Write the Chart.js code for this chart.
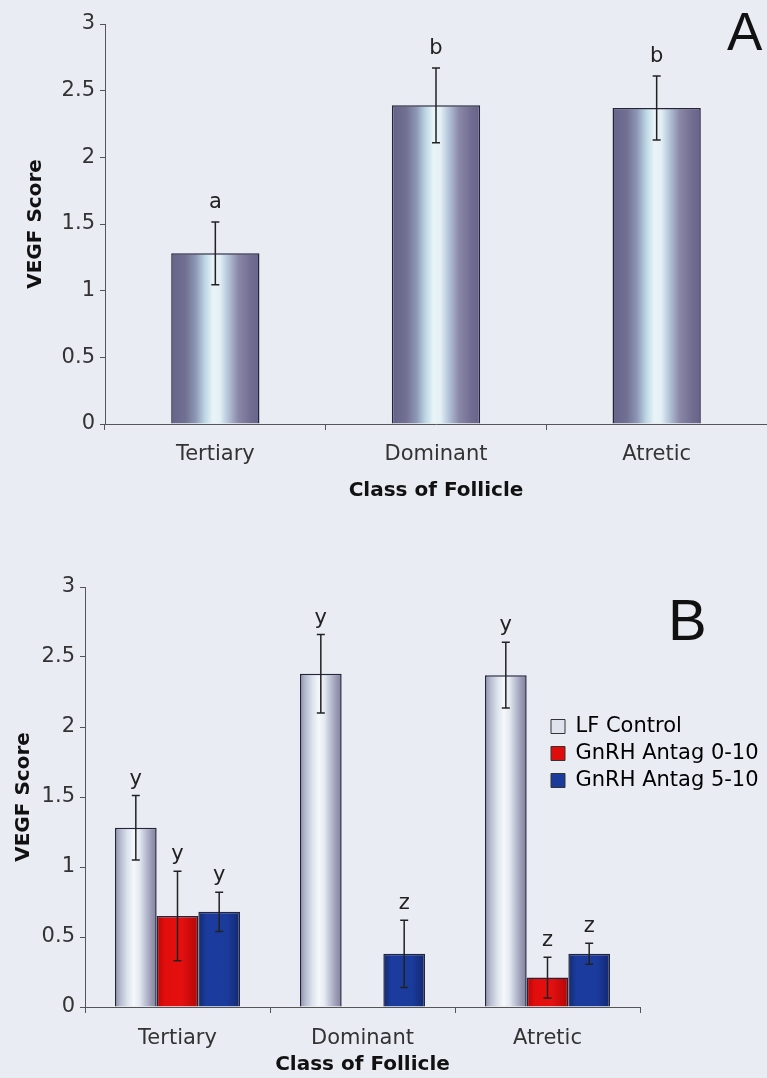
<!DOCTYPE html>
<html>
<head>
<meta charset="utf-8">
<script src="https://cdn.jsdelivr.net/npm/chart.js@4.4.1/dist/chart.umd.min.js"></script>
<style>
  body { margin: 0; background: #e9ecf3; width: 767px; height: 1078px; position: relative; overflow: hidden; }
  canvas { position: absolute; left: 0; }
  #chartA { top: 0; }
  #chartB { top: 560px; }
</style>
</head>
<body>
<canvas id="chartA" width="767" height="510"></canvas>
<canvas id="chartB" width="767" height="518"></canvas>
<script>
// --- Datos ---
const categories = ['Tertiary', 'Dominant', 'Atretic'];
const yTicks = [0, 0.5, 1, 1.5, 2, 2.5, 3];

// Panel A
const scoreA = [1.28, 2.39, 2.37];
const errA = [0.235, 0.28, 0.24];
const lettersA = ['a', 'b', 'b'];

// Panel B
const seriesB = ['LF Control', 'GnRH Antag 0-10', 'GnRH Antag 5-10'];
const lfControl = [1.28, 2.38, 2.37];
const lfControlErr = [0.23, 0.28, 0.235];
const lfControlLetters = ['y', 'y', 'y'];
const antag010 = [0.65, null, 0.21];
const antag010Err = [0.32, null, 0.145];
const antag010Letters = ['y', null, 'z'];
const antag510 = [0.68, 0.38, 0.38];
const antag510Err = [0.14, 0.24, 0.075];
const antag510Letters = ['y', 'z', 'z'];

// --- Estilos ---
const darkCylinder = [[0,'#65638a'],[0.16,'#716f92'],[0.28,'#8e98b6'],[0.38,'#bcd6e4'],[0.47,'#e8f4f7'],[0.55,'#e4f0f5'],[0.64,'#b6c6da'],[0.76,'#8a88a8'],[0.9,'#716d91'],[1,'#65618a']];
const lightCylinder = [[0,'#8c8ca8'],[0.12,'#b3b9cc'],[0.3,'#dce3ed'],[0.45,'#f5f8fb'],[0.58,'#e6ebf2'],[0.72,'#bfc4d6'],[0.87,'#9a9ab4'],[1,'#82809c']];
const redBar = [[0,'#b80606'],[0.2,'#e20e0e'],[0.6,'#e41010'],[1,'#b40606']];
const blueBar = [[0,'#132a74'],[0.2,'#1b3c9e'],[0.7,'#1a3a9c'],[1,'#12286e']];
const legendFills = ['#dfe3ee', '#e00c0c', '#1a3a9c'];
const CAT_PCT_A = 0.4;
const CAT_PCT_B = 0.676;

Chart.defaults.font.family = '"DejaVu Sans", Verdana, sans-serif';

// gradiente tipo cilindro calculado desde la escala x
function cylinder(stops, catPct) {
  return ctx => {
    if (ctx.type !== 'data') return stops[Math.floor(stops.length / 2)][1];
    const chart = ctx.chart, x = chart.scales.x;
    const n = chart.data.datasets.length;
    const catW = x && x.width / chart.data.labels.length;
    if (!catW || !isFinite(catW)) return stops[0][1];
    const groupW = catW * catPct, barW = groupW / n;
    const left = x.getPixelForValue(ctx.dataIndex) - groupW / 2 + ctx.datasetIndex * barW;
    if (!isFinite(left)) return stops[0][1];
    const g = chart.ctx.createLinearGradient(left, 0, left + barW, 0);
    stops.forEach(([o, c]) => g.addColorStop(o, c));
    return g;
  };
}

// --- Plugins ---
const errorBars = {
  id: 'errorBars',
  afterDatasetsDraw(chart, args, opts) {
    const ctx = chart.ctx, y = chart.scales.y;
    ctx.save();
    ctx.strokeStyle = opts.color;
    ctx.lineWidth = opts.width;
    ctx.fillStyle = opts.textColor;
    ctx.font = opts.font;
    ctx.textAlign = 'center';
    ctx.textBaseline = 'alphabetic';
    chart.data.datasets.forEach((ds, d) => {
      chart.getDatasetMeta(d).data.forEach((bar, i) => {
        const v = ds.data[i], e = ds.errors[i];
        if (v == null || e == null) return;
        const top = y.getPixelForValue(v + e), bot = y.getPixelForValue(v - e);
        ctx.beginPath();
        ctx.moveTo(bar.x, top); ctx.lineTo(bar.x, bot);
        ctx.moveTo(bar.x - opts.cap, top); ctx.lineTo(bar.x + opts.cap, top);
        ctx.moveTo(bar.x - opts.cap, bot); ctx.lineTo(bar.x + opts.cap, bot);
        ctx.stroke();
        if (ds.letters[i]) ctx.fillText(ds.letters[i], bar.x, top - opts.gap);
      });
    });
    ctx.restore();
  }
};

const panelLabel = {
  id: 'panelLabel',
  afterDraw(chart, args, opts) {
    const ctx = chart.ctx;
    ctx.save();
    ctx.fillStyle = '#111';
    ctx.font = opts.size + 'px "Liberation Sans", Arial, sans-serif';
    ctx.textAlign = 'left';
    ctx.textBaseline = 'alphabetic';
    ctx.fillText(opts.text, opts.x, opts.y);
    ctx.restore();
  }
};

const legendPlace = {
  id: 'legendPlace',
  afterLayout(chart, args, opts) {
    const lg = chart.legend;
    if (!lg || opts.x == null) return;
    const w = lg.width, h = lg.height;
    lg.left = opts.x; lg.top = opts.y;
    lg.right = opts.x + w; lg.bottom = opts.y + h;
  }
};

// --- Escalas ---
function yScale(titlePad, width) {
  return {
    min: yTicks[0], max: yTicks[yTicks.length - 1],
    ticks: { stepSize: yTicks[1] - yTicks[0], color: '#333', font: { size: 21 }, padding: 5,
             callback: v => String(v) },
    grid: { drawOnChartArea: false, tickLength: 5, color: '#555', lineWidth: 1 },
    border: { color: '#555', width: 1 },
    title: { display: true, text: 'VEGF Score', color: '#111', font: { size: 20, weight: 'bold' }, padding: { top: titlePad, bottom: 0 } },
    afterFit: s => { s.width = width; }
  };
}

function xScale(height, tickPad, titleBottom) {
  return {
    ticks: { color: '#333', font: { size: 21 }, padding: tickPad, maxRotation: 0 },
    grid: { drawOnChartArea: false, tickLength: 6, color: '#555', offset: true },
    border: { color: '#555', width: 1 },
    title: { display: true, text: 'Class of Follicle', color: '#111', font: { size: 20, weight: 'bold' }, padding: { top: 0, bottom: titleBottom } },
    afterFit: s => { s.height = height; }
  };
}

const barStyle = { borderColor: '#24243a', borderWidth: 1.5, borderSkipped: 'bottom' };

// --- Grafico A ---
new Chart(document.getElementById('chartA'), {
  type: 'bar',
  data: {
    labels: categories,
    datasets: [{
      label: 'VEGF Score', data: scoreA, errors: errA, letters: lettersA,
      backgroundColor: cylinder(darkCylinder, CAT_PCT_A),
      categoryPercentage: CAT_PCT_A, barPercentage: 1, ...barStyle
    }]
  },
  options: {
    responsive: false, animation: false, events: [],
    layout: { padding: { top: 24, right: 0, bottom: 0, left: 0 } },
    scales: { x: xScale(86, 12, 7), y: yScale(24, 105) },
    plugins: {
      legend: { display: false }, tooltip: { enabled: false },
      errorBars: { color: '#222', width: 1.5, cap: 4, gap: 14, textColor: '#222', font: '21px "DejaVu Sans"' },
      panelLabel: { text: 'A', x: 727, y: 50, size: 53 }
    }
  },
  plugins: [errorBars, panelLabel]
});

// --- Grafico B ---
new Chart(document.getElementById('chartB'), {
  type: 'bar',
  data: {
    labels: categories,
    datasets: [
      { label: seriesB[0], data: lfControl, errors: lfControlErr, letters: lfControlLetters,
        backgroundColor: cylinder(lightCylinder, CAT_PCT_B), categoryPercentage: CAT_PCT_B, barPercentage: 1, ...barStyle },
      { label: seriesB[1], data: antag010, errors: antag010Err, letters: antag010Letters,
        backgroundColor: cylinder(redBar, CAT_PCT_B), categoryPercentage: CAT_PCT_B, barPercentage: 1, ...barStyle },
      { label: seriesB[2], data: antag510, errors: antag510Err, letters: antag510Letters,
        backgroundColor: cylinder(blueBar, CAT_PCT_B), categoryPercentage: CAT_PCT_B, barPercentage: 1, ...barStyle }
    ]
  },
  options: {
    responsive: false, animation: false, events: [],
    layout: { padding: { top: 27, right: 127, bottom: 0, left: 0 } },
    scales: { x: xScale(71, 13, 1), y: yScale(12, 85) },
    plugins: {
      tooltip: { enabled: false },
      legend: {
        display: true, position: 'chartArea', align: 'start',
        labels: {
          boxWidth: 14, boxHeight: 14, padding: 6, color: '#222', font: { size: 21 },
          generateLabels: chart => chart.data.datasets.map((ds, i) => ({
            text: ds.label, fillStyle: legendFills[i], strokeStyle: '#333', lineWidth: 1, hidden: false, datasetIndex: i
          }))
        }
      },
      legendPlace: { x: 545, y: 150 },
      errorBars: { color: '#222', width: 1.5, cap: 4, gap: 11, textColor: '#222', font: '21px "DejaVu Sans"' },
      panelLabel: { text: 'B', x: 668, y: 80, size: 58 }
    }
  },
  plugins: [errorBars, panelLabel, legendPlace]
});
</script>
</body>
</html>
